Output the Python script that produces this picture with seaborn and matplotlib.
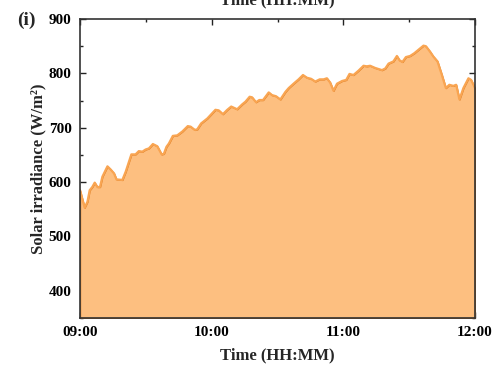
import matplotlib
matplotlib.use("Agg")
import matplotlib.pyplot as plt
from matplotlib.ticker import MultipleLocator, FuncFormatter
import seaborn as sns
import pandas as pd

# Minutes after 09:00 and measured solar irradiance (W/m^2)
minutes = [0, 2.1, 3.4, 4.4, 5.6, 6.7, 7.9, 9.1, 10.2, 12.5, 14.0, 15.5, 16.6,
           19.3, 20.8, 23.4, 25.3, 26.8, 28.4, 29.9, 31.4, 33.2, 35.2, 37.2,
           38.2, 39.4, 40.5, 42.3, 44.3, 46.6, 49.1, 50.4, 52.3, 53.4, 55.2,
           58.0, 61.7, 63.2, 65.1, 67.1, 68.9, 71.6, 73.9, 75.4, 77.3, 78.4,
           80.2, 81.7, 83.4, 86.0, 87.5, 89.3, 91.3, 93.6, 95.1, 97.3, 99.6,
           101.6, 103.4, 105.3, 107.2, 109.2, 111.0, 112.5, 114.0, 115.5,
           117.1, 119.4, 121.3, 122.8, 124.6, 126.9, 129.2, 130.7, 132.2,
           134.5, 137.6, 139.1, 140.6, 142.8, 144.4, 145.6, 146.9, 148.5,
           150.4, 152.3, 154.7, 156.5, 157.6, 159.5, 161.0, 162.9, 164.9,
           166.7, 168.3, 170.1, 171.4, 172.9, 174.7, 177.0, 178.2, 180.0]
irradiance = [585, 553, 564, 585, 591, 599, 591, 591, 610, 629, 623, 616, 605,
              604, 619, 651, 651, 657, 656, 660, 662, 670, 666, 651,
              652, 665, 671, 685, 686, 693, 703, 702, 696, 697, 708,
              717, 733, 732, 725, 733, 739, 734, 743, 748, 757, 756,
              747, 751, 751, 765, 760, 758, 752, 766, 773, 781, 789,
              797, 792, 790, 785, 789, 789, 791, 783, 768,
              781, 786, 788, 799, 797, 805, 814, 813, 814,
              810, 806, 809, 818, 822, 832, 824, 821, 830,
              832, 837, 845, 851, 850, 840, 831, 822, 797,
              773, 779, 777, 779, 752, 773, 791, 788, 773]

x_ticks = [0, 60, 120, 180]
x_tick_labels = ["09:00", "10:00", "11:00", "12:00"]

df = pd.DataFrame({"minutes": minutes, "irradiance": irradiance})

sns.set_theme(style="white")
plt.rcParams["font.family"] = ["Liberation Serif", "DejaVu Serif"]
plt.rcParams["font.weight"] = "bold"

fig = plt.figure(figsize=(4.96, 3.69), dpi=100)
ax = fig.add_axes([0.1613, 0.1382, 0.7964, 0.8103])

y_min, y_max = 350, 900
ax.fill_between(df["minutes"], y_min, df["irradiance"], facecolor="#fdbf80",
                edgecolor="#d9781e", linewidth=1.0, zorder=1)
sns.lineplot(data=df, x="minutes", y="irradiance", ax=ax, color="#f9a552",
             linewidth=1.6, zorder=2)

ax.set_xlim(0, 180)
ax.set_ylim(y_min, y_max)
ax.set_xticks(x_ticks)
ax.xaxis.set_major_formatter(FuncFormatter(
    lambda v, p: x_tick_labels[x_ticks.index(int(round(v)))] if int(round(v)) in x_ticks else ""))
ax.xaxis.set_minor_locator(MultipleLocator(30))
ax.yaxis.set_major_locator(MultipleLocator(100))
ax.yaxis.set_minor_locator(MultipleLocator(50))

ax.tick_params(which="both", direction="in", top=True, right=True,
               bottom=True, left=True, width=1.0, colors="#222222",
               labelcolor="black")
ax.tick_params(which="major", length=4, labelsize=11, pad=6)
ax.tick_params(which="minor", length=2.5)
for lab in ax.get_xticklabels() + ax.get_yticklabels():
    lab.set_fontweight("bold")

for s in ax.spines.values():
    s.set_linewidth(1.2)
    s.set_color("#333333")

ax.set_xlabel("Time (HH:MM)", fontsize=12, fontweight="bold", labelpad=6)
ax.set_ylabel("Solar irradiance (W/m²)", fontsize=12, fontweight="bold",
              labelpad=1.5)

fig.text(0.5595, 0.989, "Time (HH:MM)", ha="center", va="baseline",
         fontsize=12, fontweight="bold")
fig.text(0.035, 0.945, "(i)", ha="left", va="center", fontsize=14,
         fontweight="bold")

fig.savefig("out.png", dpi=100)
